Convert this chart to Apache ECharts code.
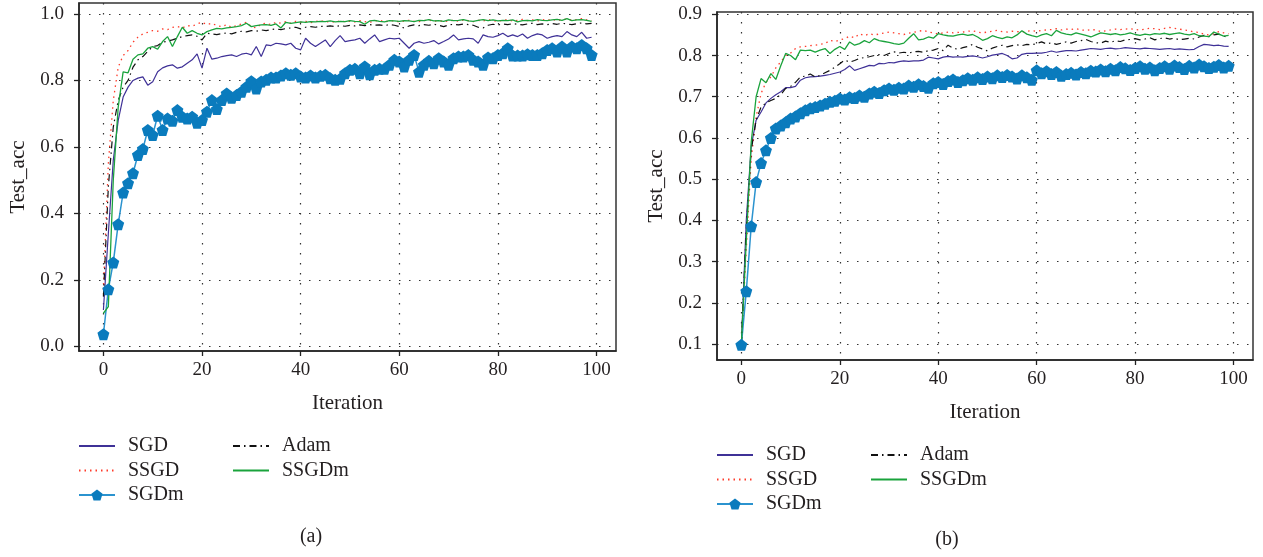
<!DOCTYPE html>
<html>
<head>
<meta charset="utf-8">
<script src="https://cdn.jsdelivr.net/npm/echarts@6/dist/echarts.min.js"></script>
<style>html,body{margin:0;padding:0;background:#fff}#c{width:1263px;height:557px}</style>
</head>
<body>
<div id="c"></div>
<script>
// ---------- data (a) ----------
const xTicks = [0, 20, 40, 60, 80, 100];
const yTicksA = [0.0, 0.2, 0.4, 0.6, 0.8, 1.0];
const yTicksB = [0.1, 0.2, 0.3, 0.4, 0.5, 0.6, 0.7, 0.8, 0.9];
const seriesNames = ['SGD', 'SSGD', 'SGDm', 'Adam', 'SSGDm'];

const SGD_a = [0.11,0.34,0.56,0.68,0.75,0.78,0.80,0.807,0.811,0.786,0.796,0.826,0.838,0.844,0.847,0.837,0.841,0.852,0.862,0.880,
0.837,0.897,0.864,0.867,0.872,0.875,0.877,0.872,0.879,0.882,0.877,0.902,0.872,0.907,0.905,0.912,0.910,0.907,0.912,0.897,
0.892,0.927,0.912,0.902,0.912,0.922,0.902,0.920,0.935,0.917,0.920,0.922,0.927,0.912,0.925,0.937,0.917,0.922,0.927,0.925,
0.927,0.912,0.897,0.912,0.917,0.912,0.915,0.920,0.910,0.917,0.925,0.937,0.922,0.925,0.927,0.925,0.912,0.937,0.932,0.930,
0.935,0.942,0.932,0.937,0.932,0.940,0.927,0.935,0.940,0.937,0.927,0.932,0.935,0.932,0.947,0.937,0.932,0.945,0.927,0.930];

const SSGD_a = [0.17,0.55,0.74,0.84,0.875,0.89,0.915,0.93,0.94,0.945,0.95,0.948,0.955,0.953,0.96,0.962,0.958,0.965,0.963,0.97,
0.975,0.968,0.972,0.965,0.962,0.968,0.96,0.965,0.97,0.975,0.962,0.958,0.97,0.972,0.968,0.975,0.972,0.977,0.972,0.978,
0.975,0.978,0.974,0.977,0.980,0.976,0.978,0.975,0.979,0.977,0.978,0.976,0.980,0.977,0.975,0.979,0.981,0.977,0.978,0.980,
0.976,0.979,0.981,0.978,0.977,0.980,0.982,0.978,0.980,0.977,0.979,0.981,0.978,0.982,0.980,0.977,0.981,0.979,0.983,0.980,
0.978,0.981,0.983,0.979,0.981,0.984,0.980,0.982,0.979,0.983,0.981,0.984,0.980,0.983,0.985,0.981,0.983,0.986,0.982,0.980];

const SGDm_a = [0.037,0.172,0.253,0.368,0.463,0.491,0.521,0.576,0.594,0.651,0.636,0.694,0.651,0.686,0.679,0.711,0.691,0.686,0.691,0.673,
0.681,0.706,0.741,0.714,0.741,0.761,0.748,0.756,0.766,0.781,0.798,0.776,0.797,0.802,0.809,0.809,0.815,0.822,0.817,0.822,
0.812,0.809,0.815,0.809,0.814,0.817,0.807,0.802,0.805,0.822,0.832,0.835,0.822,0.842,0.819,0.832,0.835,0.835,0.847,0.862,
0.857,0.842,0.862,0.877,0.826,0.847,0.859,0.852,0.867,0.857,0.847,0.867,0.872,0.872,0.877,0.862,0.857,0.847,0.869,0.867,
0.877,0.882,0.897,0.875,0.875,0.875,0.879,0.877,0.877,0.882,0.892,0.897,0.887,0.902,0.887,0.902,0.897,0.907,0.897,0.877];

const Adam_a = [0.15,0.48,0.66,0.74,0.78,0.80,0.84,0.862,0.872,0.888,0.902,0.905,0.915,0.918,0.922,0.927,0.932,0.935,0.937,0.933,
0.922,0.942,0.940,0.938,0.941,0.943,0.940,0.945,0.948,0.946,0.950,0.948,0.952,0.950,0.953,0.955,0.953,0.956,0.958,0.960,
0.955,0.960,0.962,0.960,0.963,0.962,0.964,0.962,0.965,0.963,0.966,0.964,0.967,0.965,0.968,0.966,0.967,0.965,0.968,0.966,
0.962,0.958,0.964,0.967,0.965,0.968,0.966,0.969,0.966,0.962,0.967,0.969,0.967,0.970,0.968,0.966,0.960,0.958,0.966,0.969,
0.967,0.970,0.968,0.971,0.969,0.967,0.970,0.972,0.968,0.970,0.968,0.971,0.969,0.972,0.970,0.968,0.971,0.973,0.970,0.972];

const SSGDm_a = [0.10,0.12,0.50,0.72,0.826,0.823,0.864,0.877,0.880,0.897,0.902,0.894,0.917,0.932,0.902,0.932,0.960,0.942,0.950,0.942,
0.937,0.947,0.952,0.957,0.955,0.958,0.960,0.962,0.965,0.972,0.962,0.965,0.967,0.968,0.966,0.970,0.958,0.975,0.972,0.974,
0.976,0.975,0.977,0.976,0.978,0.977,0.979,0.976,0.978,0.977,0.980,0.978,0.977,0.969,0.979,0.981,0.978,0.976,0.980,0.979,
0.978,0.980,0.979,0.977,0.981,0.980,0.983,0.979,0.980,0.978,0.982,0.980,0.981,0.983,0.979,0.978,0.981,0.983,0.980,0.982,
0.979,0.981,0.980,0.982,0.976,0.980,0.981,0.979,0.983,0.981,0.980,0.982,0.984,0.981,0.986,0.980,0.982,0.983,0.981,0.978];

// ---------- data (b) ----------
const SGD_b = [0.10,0.40,0.58,0.643,0.663,0.685,0.696,0.705,0.712,0.722,0.722,0.725,0.740,0.746,0.748,0.749,0.750,0.752,0.754,0.757,
0.760,0.766,0.775,0.764,0.768,0.772,0.776,0.775,0.781,0.780,0.783,0.782,0.785,0.787,0.786,0.787,0.787,0.789,0.796,0.794,
0.792,0.796,0.798,0.796,0.797,0.796,0.798,0.799,0.797,0.794,0.797,0.801,0.803,0.805,0.800,0.792,0.794,0.803,0.805,0.805,
0.806,0.806,0.808,0.811,0.808,0.810,0.812,0.812,0.811,0.813,0.815,0.817,0.816,0.815,0.817,0.818,0.816,0.817,0.819,0.818,
0.817,0.816,0.818,0.817,0.816,0.815,0.816,0.817,0.815,0.816,0.815,0.814,0.815,0.822,0.827,0.826,0.824,0.825,0.823,0.822];

const SSGD_b = [0.10,0.33,0.55,0.651,0.708,0.735,0.748,0.770,0.785,0.800,0.806,0.817,0.821,0.822,0.824,0.825,0.827,0.829,0.837,0.834,
0.838,0.841,0.847,0.843,0.853,0.848,0.853,0.850,0.852,0.855,0.857,0.855,0.853,0.851,0.854,0.856,0.859,0.861,0.857,0.855,
0.852,0.855,0.857,0.855,0.856,0.857,0.859,0.860,0.857,0.855,0.857,0.859,0.861,0.858,0.857,0.859,0.858,0.857,0.859,0.860,
0.859,0.861,0.862,0.863,0.865,0.862,0.864,0.863,0.865,0.862,0.861,0.863,0.862,0.858,0.860,0.862,0.864,0.863,0.864,0.865,
0.863,0.862,0.864,0.866,0.865,0.863,0.866,0.868,0.866,0.864,0.862,0.860,0.857,0.856,0.852,0.850,0.853,0.858,0.855,0.853];

const SGDm_b = [0.098,0.228,0.386,0.493,0.539,0.570,0.600,0.623,0.630,0.638,0.647,0.652,0.660,0.667,0.672,0.675,0.679,0.683,0.688,0.690,
0.696,0.693,0.699,0.697,0.703,0.700,0.708,0.712,0.709,0.716,0.720,0.717,0.722,0.720,0.727,0.724,0.730,0.726,0.722,0.733,
0.736,0.731,0.738,0.742,0.736,0.740,0.745,0.741,0.747,0.743,0.749,0.745,0.752,0.748,0.753,0.749,0.744,0.752,0.747,0.741,
0.764,0.757,0.762,0.755,0.760,0.751,0.755,0.758,0.754,0.760,0.757,0.763,0.761,0.766,0.762,0.768,0.764,0.772,0.769,0.765,
0.770,0.774,0.768,0.771,0.764,0.770,0.774,0.768,0.776,0.772,0.767,0.775,0.771,0.778,0.774,0.770,0.773,0.777,0.771,0.775];

const Adam_b = [0.10,0.38,0.57,0.643,0.675,0.685,0.691,0.696,0.705,0.720,0.725,0.735,0.748,0.750,0.755,0.748,0.752,0.758,0.764,0.772,
0.780,0.789,0.784,0.788,0.793,0.795,0.797,0.800,0.802,0.800,0.805,0.809,0.806,0.808,0.806,0.809,0.810,0.808,0.812,0.813,
0.817,0.812,0.825,0.818,0.815,0.819,0.822,0.827,0.820,0.816,0.811,0.818,0.822,0.825,0.821,0.824,0.826,0.824,0.827,0.826,
0.829,0.833,0.828,0.831,0.827,0.830,0.833,0.830,0.834,0.836,0.839,0.834,0.831,0.830,0.835,0.832,0.836,0.834,0.838,0.839,
0.841,0.838,0.840,0.843,0.838,0.841,0.843,0.840,0.842,0.838,0.840,0.842,0.840,0.845,0.849,0.846,0.850,0.852,0.847,0.844];

const SSGDm_b = [0.10,0.35,0.59,0.70,0.744,0.734,0.756,0.742,0.775,0.805,0.800,0.790,0.813,0.812,0.813,0.808,0.813,0.817,0.805,0.815,
0.822,0.815,0.833,0.825,0.829,0.836,0.831,0.841,0.836,0.834,0.832,0.829,0.827,0.830,0.842,0.853,0.838,0.840,0.845,0.842,
0.853,0.850,0.848,0.847,0.850,0.852,0.849,0.851,0.845,0.837,0.841,0.848,0.844,0.841,0.845,0.843,0.850,0.860,0.852,0.848,
0.845,0.850,0.853,0.848,0.861,0.855,0.852,0.850,0.855,0.852,0.849,0.845,0.850,0.855,0.853,0.851,0.853,0.850,0.852,0.855,
0.851,0.849,0.852,0.850,0.853,0.852,0.854,0.851,0.853,0.855,0.852,0.850,0.853,0.848,0.847,0.846,0.857,0.852,0.847,0.849];

// ---------- chart ----------
const FONT = "'Liberation Serif','DejaVu Serif',serif";
const TXT = '#231f20';
const PENT = 'path://M0,-1 L0.951,-0.309 L0.588,0.809 L-0.588,0.809 L-0.951,-0.309 Z';

const styles = {
  SGD:   {color:'#3f3197', lineStyle:{width:1.2, type:'solid'}},
  SSGD:  {color:'#ff3b2a', lineStyle:{width:1.3, type:[1.5,4]}},
  SGDm:  {color:'#0a7bbd', lineStyle:{width:1.5, type:'solid', color:'#2b93cf'}},
  Adam:  {color:'#111111', lineStyle:{width:1.2, type:[7,4,1.5,4]}},
  SSGDm: {color:'#1aa33c', lineStyle:{width:1.3, type:'solid'}}
};

function mk(name, arr, idx){
  const st = styles[name];
  const s = {
    name, type:'line', xAxisIndex:idx, yAxisIndex:idx,
    data: arr.map((v,i)=>[i,v]),
    color: st.color,
    lineStyle: Object.assign({color: st.lineStyle.color || st.color}, st.lineStyle),
    symbol: 'none', showSymbol:false, silent:true, animation:false
  };
  if (name === 'SGDm'){
    s.symbol = PENT; s.showSymbol = true; s.showAllSymbol = true; s.symbolSize = 12;
    s.itemStyle = {color: st.color};
  }
  return s;
}

const grids = [
  {left:79, top:3, width:537, height:348},
  {left:717, top:12, width:536, height:348}
];

function xAx(idx){
  return {
    type:'value', gridIndex:idx, min:-4.95, max:103.95,
    name:'Iteration', nameLocation:'middle', nameGap:42,
    nameTextStyle:{fontFamily:FONT, fontSize:21, color:TXT},
    axisLine:{show:true, onZero:false, lineStyle:{color:'#222', width:1.5}},
    axisTick:{show:true, length:5, customValues:xTicks, lineStyle:{color:'#222', width:1.3}},
    axisLabel:{customValues:xTicks, margin:10, fontFamily:FONT, fontSize:19, color:TXT},
    splitLine:{show:true, lineStyle:{color:'#333', width:1.2, type:[1.5,8.5]}}
  };
}
function yAx(idx, min, max, ticks){
  return {
    type:'value', gridIndex:idx, min, max,
    name:'Test_acc', nameLocation:'middle', nameGap:50, nameRotate:90,
    nameTextStyle:{fontFamily:FONT, fontSize:21, color:TXT},
    axisLine:{show:true, onZero:false, lineStyle:{color:'#222', width:1.5}},
    axisTick:{show:true, length:5, customValues:ticks, lineStyle:{color:'#222', width:1.3}},
    axisLabel:{customValues:ticks, margin:15, fontFamily:FONT, fontSize:19, color:TXT,
      formatter:v=>Number(v).toFixed(1)},
    splitLine:{show:true, lineStyle:{color:'#333', width:1.2, type:[1.5,8.5]}}
  };
}

function legendItem(n){
  return n === 'SGDm' ? {name:n} : {name:n, itemStyle:{opacity:0}};
}
function legend(names, left, top){
  return {
    data: names.map(legendItem), left, top, padding:0, orient:'vertical',
    itemWidth:36, itemHeight:14, itemGap:4.5,
    textStyle:{fontFamily:FONT, fontSize:20, color:TXT, lineHeight:20, padding:[0,0,0,8]},
    selectedMode:false
  };
}

const option = {
  animation:false,
  backgroundColor:'#fff',
  grid: grids.map(g=>Object.assign({show:true, borderColor:'#333', borderWidth:1.5, containLabel:false}, g)),
  xAxis:[xAx(0), xAx(1)],
  yAxis:[yAx(0, -0.0135, 1.033, yTicksA), yAx(1, 0.0612, 0.9056, yTicksB)],
  legend:[
    legend(['SGD','SSGD','SGDm'], 78, 436),
    legend(['Adam','SSGDm'], 232, 436),
    legend(['SGD','SSGD','SGDm'], 716, 445),
    legend(['Adam','SSGDm'], 870, 445)
  ],
  graphic:[
    {type:'text', x:311, y:537, style:{text:'(a)', align:'center', verticalAlign:'middle', font:"20px 'Liberation Serif', serif", fill:TXT}},
    {type:'text', x:947, y:540, style:{text:'(b)', align:'center', verticalAlign:'middle', font:"20px 'Liberation Serif', serif", fill:TXT}}
  ],
  series:[
    mk('SGD', SGD_a, 0), mk('SSGD', SSGD_a, 0), mk('SGDm', SGDm_a, 0), mk('Adam', Adam_a, 0), mk('SSGDm', SSGDm_a, 0),
    mk('SGD', SGD_b, 1), mk('SSGD', SSGD_b, 1), mk('SGDm', SGDm_b, 1), mk('Adam', Adam_b, 1), mk('SSGDm', SSGDm_b, 1)
  ]
};

const chart = echarts.init(document.getElementById('c'), null, {renderer:'canvas'});
chart.setOption(option);
</script>
</body>
</html>
